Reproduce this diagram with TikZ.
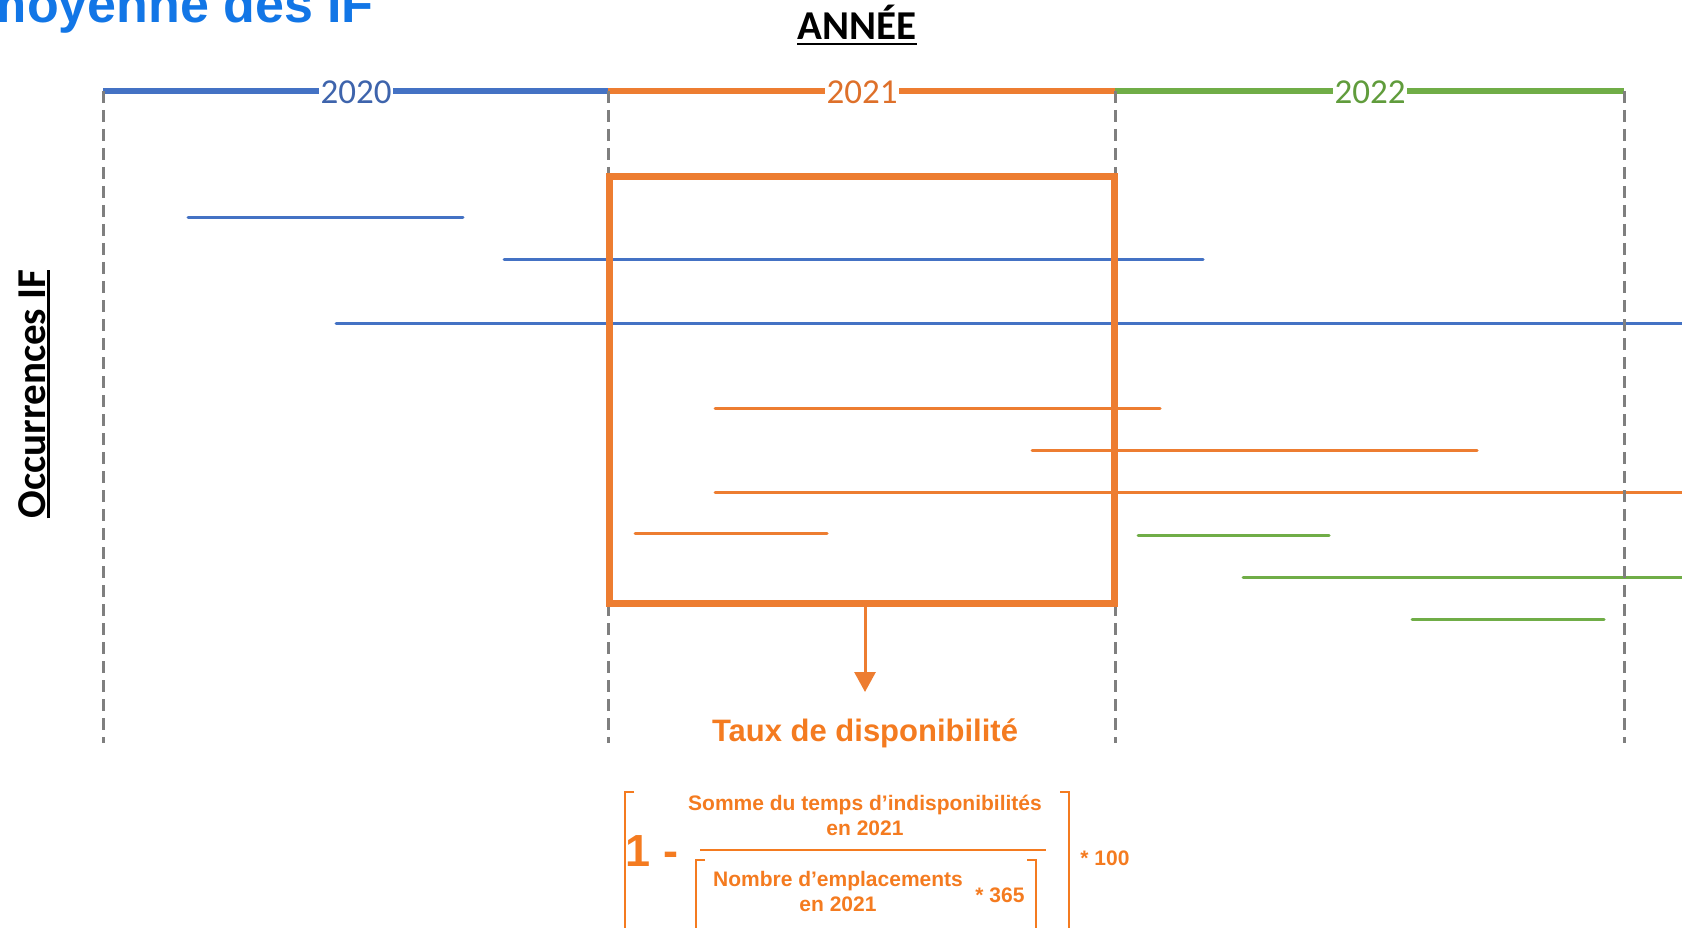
\documentclass[tikz,border=0pt]{standalone}
\usepackage{fontspec}
\setmainfont{Liberation Sans}
\newfontfamily\calibri{Carlito}
\usetikzlibrary{arrows.meta}
\definecolor{cblue}{RGB}{68,114,196}
\definecolor{corange}{RGB}{237,125,49}
\definecolor{cgreen}{RGB}{112,173,71}
\definecolor{tblue}{RGB}{62,100,172}
\definecolor{torange}{RGB}{222,112,42}
\definecolor{tgreen}{RGB}{96,156,60}
\definecolor{forange}{RGB}{244,123,32}
\definecolor{titleblue}{RGB}{18,118,230}
\definecolor{dgray}{RGB}{127,127,127}
\begin{document}
\begin{tikzpicture}[x=1pt,y=-1pt,
  yearline/.style={line width=6pt},
  yearlabel/.style={fill=white,inner sep=2pt,font=\calibri\fontsize{35}{35}\selectfont},
  occ/.style={line width=3pt,line cap=round},
  guide/.style={draw=dgray,line width=3pt,dash pattern=on 12pt off 7pt},
  ftext/.style={text=forange,font=\bfseries\fontsize{21}{25}\selectfont,align=center,inner sep=0pt},
  bracket/.style={draw=forange,line width=2pt},
  heading/.style={inner sep=0pt,font=\calibri\bfseries\fontsize{41}{41}\selectfont},
]
\useasboundingbox (0,0) rectangle (1682,928);
\clip (0,0) rectangle (1682,928);

% title (cut by the page edge)
\node[anchor=base east,text=titleblue,inner sep=0pt,font=\bfseries\fontsize{52}{52}\selectfont] (title) at (374,23) {moyenne des IF};

% heading
\node[heading,anchor=base] (annee) at (857,40) {ANNÉE};
\draw[line width=2.5pt] ([yshift=-4pt]annee.base west) -- ([yshift=-4pt]annee.base east);

% axis label
\node[heading,rotate=90,anchor=base] (occlabel) at (45,394) {Occurrences IF};
\draw[line width=2.5pt] ([xshift=3.5pt]occlabel.base west) -- ([xshift=3.5pt]occlabel.base east);

% year boundaries
\coordinate (t0) at (103,91);
\coordinate (t1) at (608,91);
\coordinate (t2) at (1115,91);
\coordinate (t3) at (1624,91);
\coordinate (b0) at (103,743);
\coordinate (b1) at (608,743);
\coordinate (b2) at (1115,743);
\coordinate (b3) at (1624,743);

% timeline
\draw[yearline,cblue] (t0) -- (t1);
\draw[yearline,corange] (t1) -- (t2);
\draw[yearline,cgreen] (t2) -- (t3);
\node[yearlabel,text=tblue] (y2020) at (356,92) {2020};
\node[yearlabel,text=torange] (y2021) at (862,92) {2021};
\node[yearlabel,text=tgreen] (y2022) at (1370,92) {2022};

% occurrences
\draw[occ,cblue] (188,218) -- (463,218);
\draw[occ,cblue] (504,260) -- (1203,260);
\draw[occ,cblue] (336,323) -- (1700,323);
\draw[occ,corange] (715,408) -- (1160,408);
\draw[occ,corange] (1032,450) -- (1477,450);
\draw[occ,corange] (715,492) -- (1700,492);
\draw[occ,corange] (635,533) -- (827,533);
\draw[occ,cgreen] (1138,535) -- (1329,535);
\draw[occ,cgreen] (1243,577) -- (1700,577);
\draw[occ,cgreen] (1412,619) -- (1604,619);

% dashed guides
\draw[guide] (t0) -- (b0);
\draw[guide] (t1) -- (b1);
\draw[guide] (t2) -- (b2);
\draw[guide] (t3) -- (b3);

% 2021 window
\node[draw=corange,line width=7pt,minimum width=505pt,minimum height=426pt,inner sep=0pt] (box) at (861.5,390) {};

% arrow to result
\coordinate (tip) at (865,692);
\draw[line width=3pt,corange,-{Triangle[width=21pt,length=20pt]}] (box.south -| tip) -- (tip);
\node[text=forange,font=\bfseries\fontsize{31}{31}\selectfont] (taux) at (865,733) {Taux de disponibilité};

% formula
\node[ftext,font=\bfseries\fontsize{45}{45}\selectfont] (one) at (652,851) {1 -};
\node[ftext] (num) at (865,815) {Somme du temps d’indisponibilités\\en 2021};
\coordinate (fracL) at (700,850);
\coordinate (fracR) at (1046,850);
\draw[draw=forange,line width=1.5pt] (fracL) -- (fracR);
\node[ftext] (den) at (838,891) {Nombre d’emplacements\\en 2021};
\node[ftext] (n365) at (1000,895) {* 365};
\node[ftext] (n100) at (1105,858) {* 100};
\draw[bracket] (634,792) -- (625,792) -- (625,940);
\draw[bracket] (1060,792) -- (1069,792) -- (1069,940);
\draw[bracket] (705,860) -- (696,860) -- (696,940);
\draw[bracket] (1027,860) -- (1036,860) -- (1036,940);
\end{tikzpicture}
\end{document}
